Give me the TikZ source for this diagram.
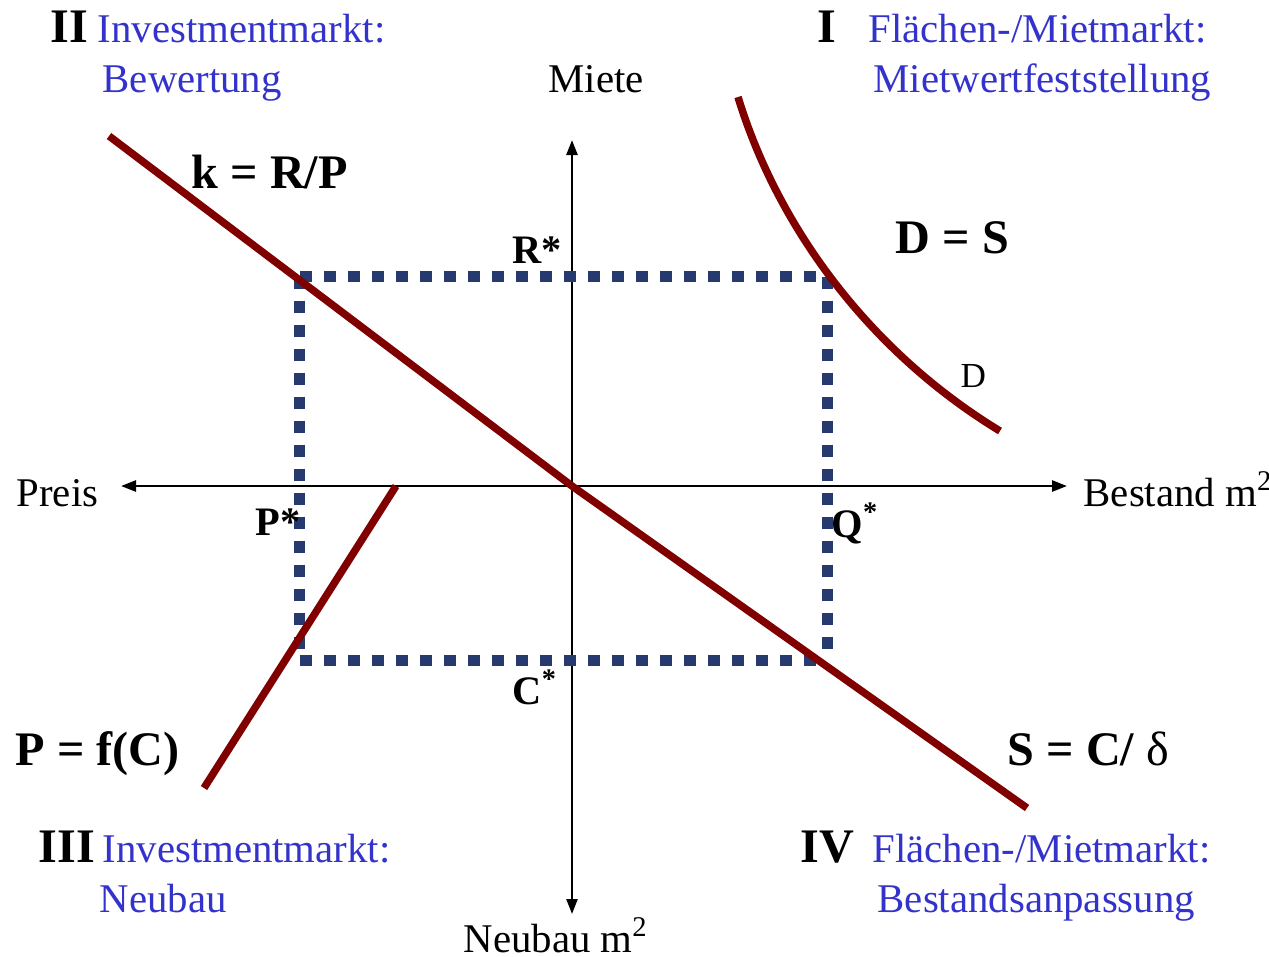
\documentclass[tikz,border=0pt]{standalone}
\usepackage{fontspec}
\setmainfont{Liberation Serif}
\usepackage{tikz}
\usetikzlibrary{arrows.meta}
\usepackage{xcolor}
\definecolor{vmblue}{HTML}{3333CC}
\definecolor{vmred}{HTML}{800000}
\definecolor{vmdots}{HTML}{263A70}

\tikzset{
  quadtext/.style={text=vmblue, font=\fontsize{11.6}{14}\selectfont, anchor=base west, inner sep=0pt},
  quadnum/.style={font=\fontsize{13.7}{16}\selectfont\bfseries, anchor=base west, inner sep=0pt},
  eqlabel/.style={font=\fontsize{13.7}{16}\selectfont\bfseries, anchor=base west, inner sep=0pt},
  starlabel/.style={font=\fontsize{11.5}{14}\selectfont\bfseries, anchor=base west, inner sep=0pt},
  axislabel/.style={font=\fontsize{11.6}{14}\selectfont, anchor=base west, inner sep=0pt},
  axisline/.style={line width=0.025cm, -{Triangle[length=0.15cm,width=0.11cm]}},
  marketline/.style={vmred, line width=0.075cm},
  dotline/.style={vmdots, line width=0.117cm, dash pattern=on 0.12cm off 0.12cm}
}

\begin{document}
\begin{tikzpicture}[x=0.01cm, y=-0.01cm]
      \useasboundingbox (0,0) rectangle (1269,956);

      % axes
      \coordinate (o) at (572,486);
      \coordinate (ytop) at (572,140);
      \coordinate (ybot) at (572,914);
      \coordinate (xleft) at (121,486);
      \coordinate (xright) at (1067,486);
      \draw[axisline] (o) -- (ytop);
      \draw[axisline] (o) -- (ybot);
      \draw[axisline] (o) -- (xleft);
      \draw[axisline] (o) -- (xright);

      \node[axislabel] (miete) at (548,92) {Miete};
      \node[axislabel] (preis) at (16,506) {Preis};
      \node[axislabel] (bestand) at (1083,506) {Bestand m\textsuperscript{2}};
      \node[axislabel] (neubau) at (463,952) {Neubau m\textsuperscript{2}};

      % equilibrium rectangle
      \coordinate (rp) at (299.5,276.5);
      \coordinate (rq) at (827.5,276.5);
      \coordinate (cq) at (827.5,660.5);
      \coordinate (cp) at (299.5,660.5);
      \draw[dotline] (rp) -- (rq);
      \draw[dotline] (rq) -- (cq);
      \draw[dotline] (cp) -- (cq);
      \draw[dotline] (rp) -- (cp);

      % market curves
      \coordinate (k1) at (109,136);
      \coordinate (k2) at (1027,808);
      \draw[marketline] (k1) -- (o) -- (k2);
      \coordinate (f1) at (396,486);
      \coordinate (f2) at (204,788);
      \draw[marketline] (f1) -- (f2);
      \coordinate (d1) at (738,97);
      \coordinate (d2) at (1000,431);
      \draw[marketline] (d1) .. controls (778,228) and (870,352) .. (d2);

      \node[starlabel] (rstar) at (512,263) {R*};
      \node[starlabel] (pstar) at (255,535) {P*};
      \node[starlabel] (qstar) at (831,537) {Q\textsuperscript{*}};
      \node[starlabel] (cstar) at (512,704) {C\textsuperscript{*}};
      \node[font=\fontsize{10}{12}\selectfont, anchor=base west, inner sep=0pt] (dlab) at (960,387) {D};

      \node[eqlabel] (krp) at (191,188) {k = R/P};
      \node[eqlabel] (dsl) at (895,253) {D = S};
      \node[eqlabel] (pfc) at (15,765) {P = f(C)};
      \node[eqlabel] (scd) at (1007,765) {S = C/ {\mdseries δ}};

      % quadrant titles
      \node[quadnum] (n2) at (50,42) {II};
      \node[quadtext] (t2a) at (97,42) {Investmentmarkt:};
      \node[quadtext] (t2b) at (102,92) {Bewertung};
      \node[quadnum] (n1) at (817,42) {I};
      \node[quadtext] (t1a) at (868,42) {Flächen-/Mietmarkt:};
      \node[quadtext] (t1b) at (873,92) {Mietwertfeststellung};
      \node[quadnum] (n3) at (38,862) {III};
      \node[quadtext] (t3a) at (102,862) {Investmentmarkt:};
      \node[quadtext] (t3b) at (99,912) {Neubau};
      \node[quadnum] (n4) at (800,862) {IV};
      \node[quadtext] (t4a) at (872,862) {Flächen-/Mietmarkt:};
      \node[quadtext] (t4b) at (877,912) {Bestandsanpassung};
    \end{tikzpicture}
\end{document}
